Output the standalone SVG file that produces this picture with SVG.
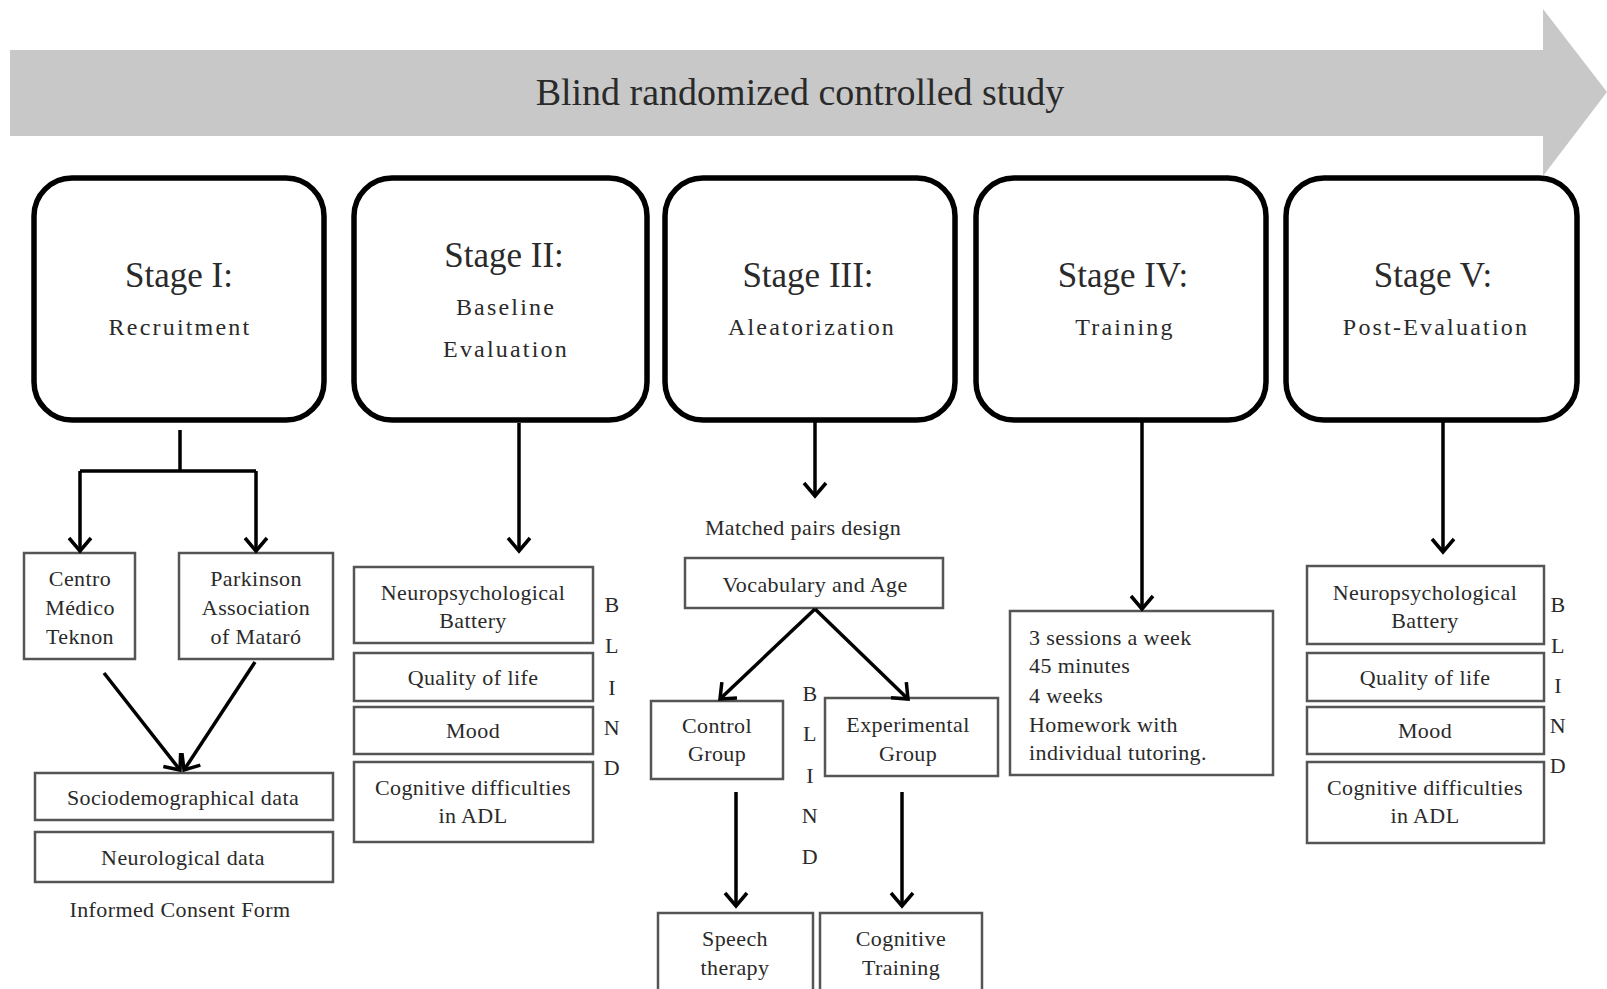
<svg xmlns="http://www.w3.org/2000/svg" width="1607" height="989" viewBox="0 0 1607 989">
<style>
.stage{fill:#fff;stroke:#000;stroke-width:5.5}
.box{fill:#fff;stroke:#555;stroke-width:2.5}
.t{font-family:"Liberation Serif",serif;fill:#2a2a2a;text-anchor:middle}
.title{font-size:35px}
.sub{font-size:24px;letter-spacing:2.2px}
.b{font-size:22px;letter-spacing:0.4px}
.l{text-anchor:start}
.conn{stroke:#000;stroke-width:3.5;fill:none}
</style>
<defs>
<marker id="ah" markerUnits="userSpaceOnUse" markerWidth="30" markerHeight="30" viewBox="-16 -15 20 30" refX="0" refY="0" orient="auto">
<path d="M-13,-11 L0,0 L-13,11" fill="none" stroke="#000" stroke-width="3.5" stroke-linejoin="miter"/>
</marker>
</defs>
<rect width="1607" height="989" fill="#fff"/>
<g id="banner">
<path d="M10,50 H1543 V9 L1607,92 L1543,176 V136 H10 Z" fill="#c8c8c8"/>
<text class="t" x="800" y="105" font-size="38" fill="#333">Blind randomized controlled study</text>
</g>
<g id="stage1">
<rect class="stage" x="34" y="178" width="290" height="242" rx="38"/>
<text class="t title" x="179" y="287">Stage I:</text>
<text class="t sub" x="180" y="335">Recruitment</text>
</g>
<g id="stage2">
<rect class="stage" x="354" y="178" width="293" height="242" rx="38"/>
<text class="t title" x="504" y="267">Stage II:</text>
<text class="t sub" x="506" y="315">Baseline</text>
<text class="t sub" x="506" y="357">Evaluation</text>
</g>
<g id="stage3">
<rect class="stage" x="665" y="178" width="290" height="242" rx="38"/>
<text class="t title" x="808" y="287">Stage III:</text>
<text class="t sub" x="812" y="335">Aleatorization</text>
</g>
<g id="stage4">
<rect class="stage" x="976" y="178" width="290" height="242" rx="38"/>
<text class="t title" x="1123" y="287">Stage IV:</text>
<text class="t sub" x="1125" y="335">Training</text>
</g>
<g id="stage5">
<rect class="stage" x="1286" y="178" width="291" height="242" rx="38"/>
<text class="t title" x="1433" y="287">Stage V:</text>
<text class="t sub" x="1436" y="335">Post-Evaluation</text>
</g>
<g id="centro">
<rect class="box" x="24" y="553" width="111" height="106"/>
<text class="t b" x="80" y="586">Centro</text>
<text class="t b" x="80" y="615">Médico</text>
<text class="t b" x="80" y="644">Teknon</text>
</g>
<g id="parkinson">
<rect class="box" x="179" y="553" width="154" height="106"/>
<text class="t b" x="256" y="586">Parkinson</text>
<text class="t b" x="256" y="615">Association</text>
<text class="t b" x="256" y="644">of Mataró</text>
</g>
<g id="socio">
<rect class="box" x="35" y="773" width="298" height="47"/>
<text class="t b" x="183" y="805">Sociodemographical data</text>
</g>
<g id="neuro">
<rect class="box" x="35" y="832" width="298" height="50"/>
<text class="t b" x="183" y="865">Neurological data</text>
</g>
<g id="consent">
<text class="t b" x="180" y="917">Informed Consent Form</text>
</g>
<g id="s2-battery">
<rect class="box" x="354" y="567" width="239" height="76"/>
<text class="t b" x="473" y="600">Neuropsychological</text>
<text class="t b" x="473" y="628">Battery</text>
</g>
<g id="s2-qol">
<rect class="box" x="354" y="653" width="239" height="48"/>
<text class="t b" x="473" y="685">Quality of life</text>
</g>
<g id="s2-mood">
<rect class="box" x="354" y="707" width="239" height="47"/>
<text class="t b" x="473" y="738">Mood</text>
</g>
<g id="s2-cog">
<rect class="box" x="354" y="762" width="239" height="80"/>
<text class="t b" x="473" y="795">Cognitive difficulties</text>
<text class="t b" x="473" y="823">in ADL</text>
</g>
<g id="s2-blind">
<text class="t b" x="612" y="612">B</text>
<text class="t b" x="612" y="653">L</text>
<text class="t b" x="612" y="695">I</text>
<text class="t b" x="612" y="735">N</text>
<text class="t b" x="612" y="775">D</text>
</g>
<g id="matched">
<text class="t b" x="803" y="535">Matched pairs design</text>
</g>
<g id="vocab">
<rect class="box" x="685" y="558" width="258" height="50"/>
<text class="t b" x="815" y="592">Vocabulary and Age</text>
</g>
<g id="control">
<rect class="box" x="651" y="701" width="132" height="78"/>
<text class="t b" x="717" y="733">Control</text>
<text class="t b" x="717" y="761">Group</text>
</g>
<g id="experimental">
<rect class="box" x="825" y="698" width="173" height="78"/>
<text class="t b" x="908" y="732">Experimental</text>
<text class="t b" x="908" y="761">Group</text>
</g>
<g id="s3-blind">
<text class="t b" x="810" y="701">B</text>
<text class="t b" x="810" y="741">L</text>
<text class="t b" x="810" y="783">I</text>
<text class="t b" x="810" y="823">N</text>
<text class="t b" x="810" y="864">D</text>
</g>
<g id="speech">
<rect class="box" x="658" y="913" width="155" height="90"/>
<text class="t b" x="735" y="946">Speech</text>
<text class="t b" x="735" y="975">therapy</text>
</g>
<g id="cogtrain">
<rect class="box" x="820" y="913" width="162" height="90"/>
<text class="t b" x="901" y="946">Cognitive</text>
<text class="t b" x="901" y="975">Training</text>
</g>
<g id="training-info">
<rect class="box" x="1010" y="611" width="263" height="164"/>
<text class="t b l" x="1029" y="645">3 sessions a week</text>
<text class="t b l" x="1029" y="673">45 minutes</text>
<text class="t b l" x="1029" y="703">4 weeks</text>
<text class="t b l" x="1029" y="732">Homework with</text>
<text class="t b l" x="1029" y="760">individual tutoring.</text>
</g>
<g id="s5-battery">
<rect class="box" x="1307" y="566" width="237" height="78"/>
<text class="t b" x="1425" y="600">Neuropsychological</text>
<text class="t b" x="1425" y="628">Battery</text>
</g>
<g id="s5-qol">
<rect class="box" x="1307" y="653" width="237" height="48"/>
<text class="t b" x="1425" y="685">Quality of life</text>
</g>
<g id="s5-mood">
<rect class="box" x="1307" y="707" width="237" height="47"/>
<text class="t b" x="1425" y="738">Mood</text>
</g>
<g id="s5-cog">
<rect class="box" x="1307" y="762" width="237" height="81"/>
<text class="t b" x="1425" y="795">Cognitive difficulties</text>
<text class="t b" x="1425" y="823">in ADL</text>
</g>
<g id="s5-blind">
<text class="t b" x="1558" y="612">B</text>
<text class="t b" x="1558" y="653">L</text>
<text class="t b" x="1558" y="693">I</text>
<text class="t b" x="1558" y="733">N</text>
<text class="t b" x="1558" y="773">D</text>
</g>
<g id="connectors">
<path class="conn" d="M180,430 V471 M80,471 H256"/>
<path class="conn" d="M80,471 V551" marker-end="url(#ah)"/>
<path class="conn" d="M256,471 V551" marker-end="url(#ah)"/>
<path class="conn" d="M104,673 L180,770" marker-end="url(#ah)"/>
<path class="conn" d="M255,662 L184,770" marker-end="url(#ah)"/>
<path class="conn" d="M519,423 V551" marker-end="url(#ah)"/>
<path class="conn" d="M815,422 V496" marker-end="url(#ah)"/>
<path class="conn" d="M815,609 L720,699" marker-end="url(#ah)"/>
<path class="conn" d="M815,609 L908,699" marker-end="url(#ah)"/>
<path class="conn" d="M736,792 V906" marker-end="url(#ah)"/>
<path class="conn" d="M902,792 V906" marker-end="url(#ah)"/>
<path class="conn" d="M1142,422 V609" marker-end="url(#ah)"/>
<path class="conn" d="M1443,422 V552" marker-end="url(#ah)"/>
</g>
</svg>
